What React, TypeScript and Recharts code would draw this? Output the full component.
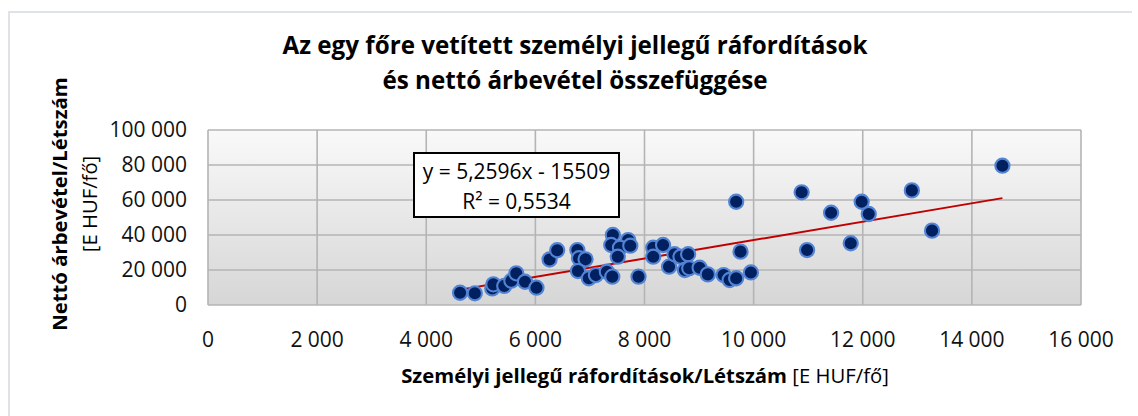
import React from "react";
import {
  ScatterChart,
  Scatter,
  XAxis,
  YAxis,
  CartesianGrid,
} from "recharts";

const xValues = [
  4620, 4890, 5210, 5230, 5430, 5560, 5650, 5810, 6020, 6260, 6400, 6770, 6800,
  6920, 6780, 6980, 7110, 7310, 7410, 7420, 7390, 7700, 7550, 7740, 7510, 7890,
  8160, 8340, 8160, 8450, 8550, 8660, 8800, 8740, 8820, 9010, 9160, 9450, 9560,
  9680, 9680, 9760, 9950, 10880, 10980, 11420, 11780, 11980, 12110, 12900,
  13270, 14560,
];
const yValues = [
  7000, 6700, 9500, 11800, 10900, 13900, 18100, 13300, 9900, 26000, 31300,
  31400, 26700, 26100, 19400, 15300, 17100, 19000, 16200, 40000, 34300, 37100,
  32700, 33900, 27600, 16200, 32700, 34300, 27600, 21900, 29000, 27600, 29000,
  20000, 21000, 21300, 17500, 17100, 14300, 15300, 59000, 30500, 18600, 64400,
  31400, 52700, 35300, 59000, 52000, 65500, 42500, 79600,
];
const trendX = [4620, 14560];
const trendY = [8790, 61071];
const xTicks = [0, 2000, 4000, 6000, 8000, 10000, 12000, 14000, 16000];
const yTicks = [0, 20000, 40000, 60000, 80000, 100000];

const titleLines = [
  "Az egy főre vetített személyi jellegű ráfordítások",
  "és nettó árbevétel összefüggése",
];
const xLabelBold = "Személyi jellegű ráfordítások/Létszám";
const xLabelUnit = " [E HUF/fő]";
const yLabelBold = "Nettó árbevétel/Létszám";
const yLabelUnit = "[E HUF/fő]";
const eqLines = ["y = 5,2596x - 15509", "R² = 0,5534"];

const points = xValues.map((x, i) => ({ x, y: yValues[i] }));
const trend = trendX.map((x, i) => ({ x, y: trendY[i] }));

const fmt = (v: number) =>
  String(v).replace(/\B(?=(\d{3})+(?!\d))/g, " ");

const FONT = "'Open Sans', 'Noto Sans', sans-serif";

const Dot = (props: any) => {
  const { cx, cy } = props;
  if (cx == null || cy == null) return null;
  return (
    <circle cx={cx} cy={cy} r={7.1} fill="#002060" stroke="#5384d4" strokeWidth={2.1} />
  );
};

export default function App() {
  return (
    <div
      style={{
        position: "absolute",
        left: 0,
        top: 0,
        width: 1138,
        height: 416,
        background: "#fff",
        fontFamily: FONT,
        overflow: "hidden",
      }}
    >
      <div
        style={{
          position: "absolute",
          left: 8,
          top: 11,
          width: 1122,
          height: 420,
          borderLeft: "2px solid #dfe3e8",
          borderTop: "2px solid #dfe3e8",
        }}
      />
      <div
        style={{
          position: "absolute",
          left: 175,
          width: 800,
          top: 27,
          textAlign: "center",
          fontWeight: 700,
          fontSize: 24.2,
          lineHeight: "35px",
          color: "#000",
        }}
      >
        {titleLines.map((t, i) => (
          <div key={i}>{t}</div>
        ))}
      </div>
      <div style={{ position: "absolute", left: 0, top: 0 }}>
        <ScatterChart
          width={1138}
          height={416}
          margin={{ top: 130, right: 57, bottom: 81, left: 108 }}
        >
          <defs>
            <linearGradient id="plotBg" x1="0" y1="0" x2="0" y2="1">
              <stop offset="0%" stopColor="#f9f9f9" />
              <stop offset="100%" stopColor="#d6d6d6" />
            </linearGradient>
          </defs>
          <CartesianGrid
            stroke="#b4b4b4"
            strokeWidth={1.6}
            fill="url(#plotBg)"
            horizontalValues={yTicks}
            verticalValues={xTicks}
          />
          <XAxis
            type="number"
            dataKey="x"
            domain={[0, 16000]}
            ticks={xTicks}
            tickFormatter={fmt}
            axisLine={false}
            tickLine={false}
            tickSize={0}
            tickMargin={27}
            height={30}
            interval={0}
            tick={{ fill: "#111", fontSize: 21, fontFamily: FONT }}
          />
          <YAxis
            type="number"
            dataKey="y"
            domain={[0, 100000]}
            ticks={yTicks}
            tickFormatter={fmt}
            axisLine={false}
            tickLine={false}
            tickSize={0}
            tickMargin={21}
            width={100}
            interval={0}
            tick={{ fill: "#111", fontSize: 21, fontFamily: FONT }}
          />
          <Scatter
            data={trend}
            line={{ stroke: "#c00000", strokeWidth: 2 }}
            shape={() => null}
            isAnimationActive={false}
          />
          <Scatter data={points} shape={<Dot />} isAnimationActive={false} />
        </ScatterChart>
      </div>
      <div
        style={{
          position: "absolute",
          left: 413,
          top: 152,
          width: 207,
          height: 66,
          boxSizing: "border-box",
          border: "2px solid #000",
          background: "#fff",
          textAlign: "center",
          fontSize: 21,
          lineHeight: "30px",
          paddingTop: 2,
          color: "#000",
        }}
      >
        {eqLines.map((t, i) => (
          <div key={i} style={{ whiteSpace: "nowrap" }}>{t}</div>
        ))}
      </div>
      <div
        style={{
          position: "absolute",
          left: 245,
          width: 800,
          top: 362,
          textAlign: "center",
          fontSize: 20.3,
          lineHeight: "26px",
          color: "#000",
        }}
      >
        <span style={{ fontWeight: 700 }}>{xLabelBold}</span>
        <span>{xLabelUnit}</span>
      </div>
      <div
        style={{
          position: "absolute",
          left: 75 - 150,
          top: 204 - 31,
          width: 300,
          height: 62,
          transform: "rotate(-90deg)",
          textAlign: "center",
          fontSize: 20.3,
          lineHeight: "30px",
          color: "#000",
        }}
      >
        <div style={{ fontWeight: 700 }}>{yLabelBold}</div>
        <div>{yLabelUnit}</div>
      </div>
    </div>
  );
}
